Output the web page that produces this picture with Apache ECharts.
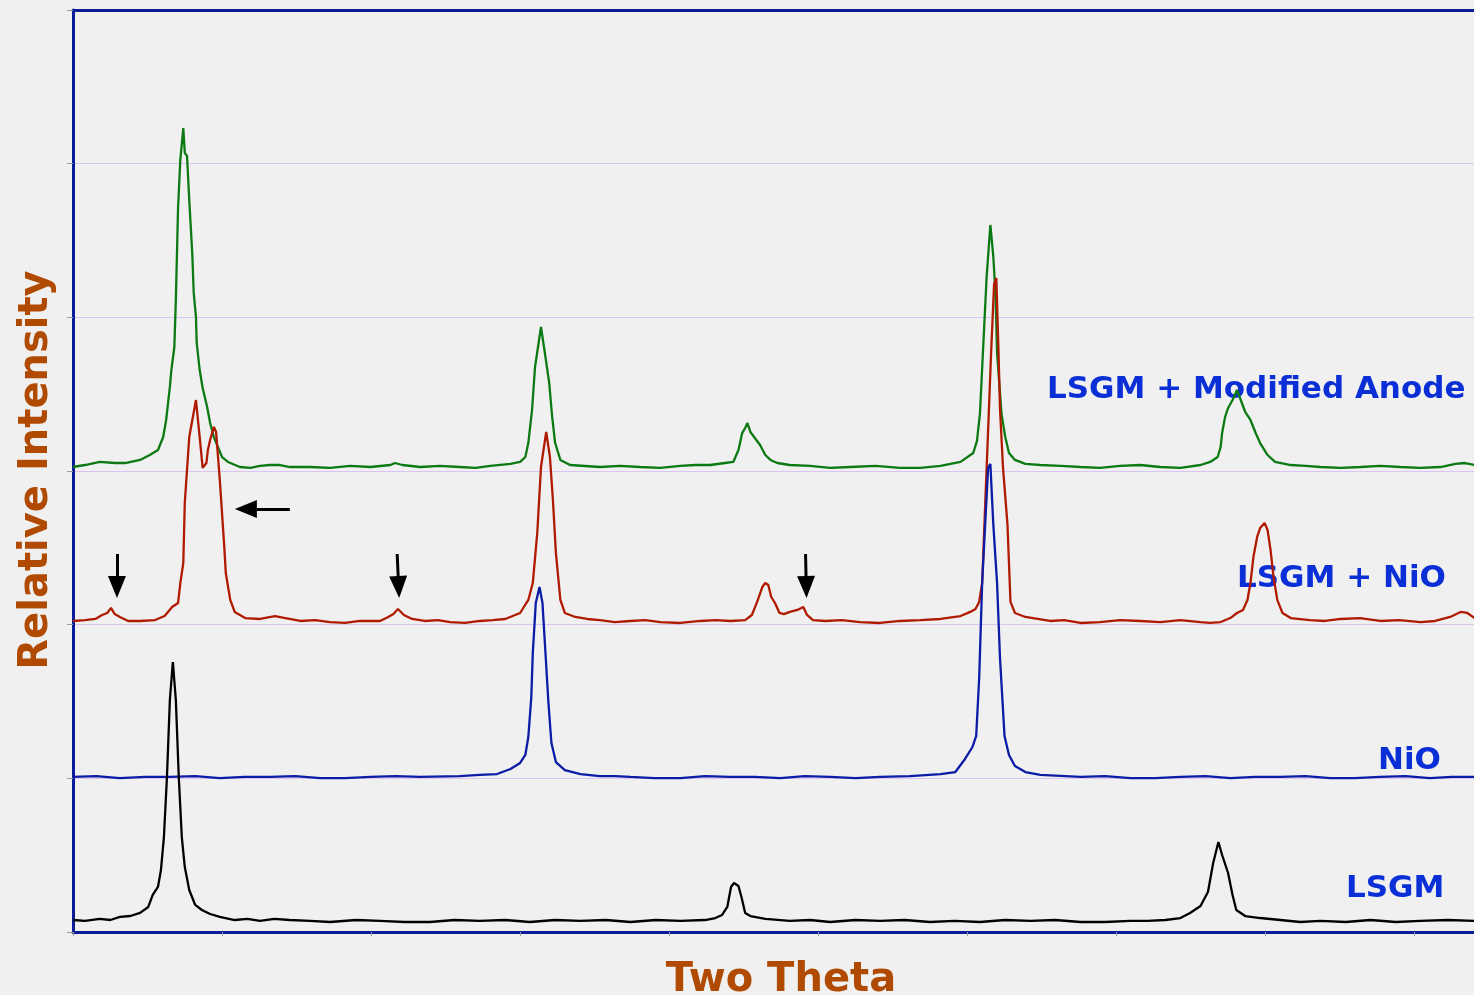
<!DOCTYPE html>
<html>
<head>
    <meta charset="utf-8">
    <title>XRD</title>
    <script src="https://cdn.jsdelivr.net/npm/echarts@6/dist/echarts.min.js"></script>
    <style>
        html, body { margin: 0; padding: 0; background: #f0f0f0; }
    </style>
</head>
<body>
<div id="chartmain" style="width:1474px; height:995px;"></div>
<script>
    // [two theta, intensity], patterns already stacked
    var lsgm = [
        [30.00,78],[30.16,72],[30.36,85],[30.50,78],[30.63,98],[30.77,104],[30.90,124],[31.01,163],
        [31.07,241],[31.14,293],[31.18,403],[31.22,618],[31.26,1002],[31.30,1510],[31.34,1757],
        [31.38,1510],[31.42,1002],[31.46,618],[31.50,423],[31.56,273],[31.64,176],[31.73,143],
        [31.84,117],[31.97,98],[32.17,78],[32.34,85],[32.51,72],[32.70,85],[32.91,78],[33.18,72],
        [33.45,65],[33.80,78],[34.12,72],[34.45,65],[34.79,65],[35.12,78],[35.46,72],[35.80,78],
        [36.13,65],[36.47,78],[36.81,72],[37.15,78],[37.48,65],[37.82,78],[38.15,72],[38.48,78],
        [38.62,91],[38.71,111],[38.78,163],[38.83,293],[38.87,319],[38.93,299],[38.97,228],[39.02,124],
        [39.09,104],[39.29,85],[39.62,72],[39.89,78],[40.16,65],[40.50,78],[40.83,72],[41.16,78],
        [41.50,65],[41.83,72],[42.17,65],[42.51,78],[42.85,72],[43.18,78],[43.52,65],[43.85,65],
        [44.19,72],[44.42,72],[44.66,78],[44.86,91],[44.99,124],[45.13,169],[45.23,260],[45.30,449],
        [45.37,586],[45.42,501],[45.50,384],[45.56,241],[45.61,143],[45.73,104],[45.93,91],[46.20,78],
        [46.47,65],[46.74,72],[47.08,65],[47.41,78],[47.75,65],[48.08,72],[48.45,78],[48.81,72]
    ];
    var nio = [
        [30.00,1009],[30.31,1015],[30.63,1002],[30.97,1009],[31.30,1009],[31.64,1015],[31.97,1002],
        [32.30,1009],[32.64,1009],[32.98,1015],[33.32,1002],[33.65,1002],[33.99,1009],[34.33,1015],
        [34.66,1009],[35.19,1015],[35.46,1022],[35.69,1028],[35.87,1061],[36.00,1100],[36.07,1152],
        [36.11,1269],[36.15,1529],[36.17,1816],[36.21,2141],[36.26,2245],[36.30,2141],[36.34,1816],
        [36.38,1490],[36.42,1230],[36.48,1106],[36.60,1054],[36.81,1028],[37.07,1015],[37.27,1015],
        [37.48,1009],[37.80,1002],[38.15,1002],[38.48,1015],[38.82,1009],[39.15,1009],[39.49,1002],
        [39.82,1015],[40.16,1009],[40.50,1002],[40.83,1009],[41.23,1015],[41.64,1028],[41.84,1041],
        [41.97,1126],[42.07,1204],[42.12,1276],[42.16,1653],[42.20,2271],[42.24,2649],[42.28,3020],
        [42.31,3046],[42.35,2649],[42.40,2271],[42.44,1777],[42.50,1276],[42.56,1152],[42.64,1080],
        [42.78,1041],[42.98,1022],[43.52,1009],[43.85,1015],[44.19,1002],[44.52,1002],[44.86,1009],
        [45.20,1015],[45.53,1002],[45.86,1009],[46.20,1009],[46.54,1015],[46.87,1002],[47.20,1002],
        [47.54,1009],[47.88,1015],[48.21,1002],[48.50,1009],[48.81,1009]
    ];
    var lsgmNio = [
        [30.00,2024],[30.16,2030],[30.30,2037],[30.39,2063],[30.46,2076],[30.51,2109],[30.56,2069],
        [30.63,2050],[30.74,2024],[30.90,2024],[31.10,2030],[31.23,2056],[31.33,2115],[31.41,2141],
        [31.44,2271],[31.48,2401],[31.50,2792],[31.56,3221],[31.65,3462],[31.70,3221],[31.74,3020],
        [31.79,3052],[31.81,3137],[31.84,3202],[31.89,3287],[31.92,3254],[31.97,2942],[32.03,2506],
        [32.05,2336],[32.11,2161],[32.17,2083],[32.31,2043],[32.51,2037],[32.71,2056],[32.85,2043],
        [33.05,2024],[33.25,2030],[33.45,2017],[33.65,2011],[33.85,2024],[34.12,2024],[34.23,2050],
        [34.30,2069],[34.36,2102],[34.44,2063],[34.55,2037],[34.72,2024],[34.90,2030],[35.06,2017],
        [35.26,2011],[35.46,2024],[35.63,2030],[35.80,2037],[36.00,2076],[36.11,2161],[36.17,2271],
        [36.23,2597],[36.28,3026],[36.35,3254],[36.40,3091],[36.44,2811],[36.48,2467],[36.54,2161],
        [36.60,2076],[36.74,2050],[36.90,2037],[37.07,2030],[37.27,2017],[37.48,2024],[37.68,2030],
        [37.88,2017],[38.15,2011],[38.42,2024],[38.62,2030],[38.82,2024],[39.02,2030],[39.11,2063],
        [39.18,2148],[39.25,2245],[39.29,2271],[39.33,2258],[39.37,2180],[39.42,2141],[39.48,2076],
        [39.54,2069],[39.62,2083],[39.72,2096],[39.80,2115],[39.85,2063],[39.93,2030],[40.09,2024],
        [40.32,2030],[40.56,2017],[40.83,2011],[41.10,2024],[41.37,2030],[41.64,2037],[41.91,2056],
        [42.04,2083],[42.11,2102],[42.16,2148],[42.20,2271],[42.24,2772],[42.28,3267],[42.32,3768],
        [42.36,4217],[42.39,4256],[42.42,3768],[42.44,3397],[42.48,3020],[42.54,2649],[42.58,2148],
        [42.64,2076],[42.78,2050],[43.11,2024],[43.30,2030],[43.52,2011],[43.78,2017],[44.05,2030],
        [44.32,2024],[44.59,2017],[44.86,2030],[45.13,2017],[45.26,2011],[45.40,2017],[45.53,2043],
        [45.62,2076],[45.70,2096],[45.76,2161],[45.80,2271],[45.84,2440],[45.89,2571],[45.93,2629],
        [45.99,2662],[46.03,2616],[46.07,2486],[46.11,2310],[46.16,2161],[46.23,2076],[46.34,2043],
        [46.60,2030],[46.80,2024],[47.01,2037],[47.27,2043],[47.54,2024],[47.80,2030],[48.08,2017],
        [48.28,2024],[48.48,2050],[48.62,2083],[48.71,2076],[48.81,2043]
    ];
    var lsgmAnode = [
        [30.00,3026],[30.16,3039],[30.36,3059],[30.56,3052],[30.70,3052],[30.90,3072],[31.03,3104],
        [31.14,3137],[31.21,3221],[31.25,3332],[31.30,3547],[31.32,3657],[31.36,3807],[31.38,4113],
        [31.41,4718],[31.44,5024],[31.48,5232],[31.50,5070],[31.53,5050],[31.56,4764],[31.60,4419],
        [31.62,4159],[31.65,4002],[31.66,3833],[31.70,3657],[31.74,3540],[31.80,3417],[31.84,3312],
        [31.89,3221],[31.95,3150],[32.00,3091],[32.08,3059],[32.24,3026],[32.38,3020],[32.51,3033],
        [32.64,3039],[32.78,3039],[32.91,3026],[33.18,3026],[33.45,3020],[33.72,3033],[33.99,3026],
        [34.26,3039],[34.32,3052],[34.42,3039],[34.66,3026],[34.92,3033],[35.19,3026],[35.40,3020],
        [35.60,3033],[35.87,3046],[36.00,3059],[36.07,3091],[36.11,3182],[36.16,3397],[36.20,3677],
        [36.28,3937],[36.34,3742],[36.39,3573],[36.43,3352],[36.47,3182],[36.54,3072],[36.67,3039],
        [37.07,3026],[37.34,3033],[37.61,3026],[37.88,3020],[38.15,3033],[38.35,3039],[38.55,3039],
        [38.75,3052],[38.86,3059],[38.93,3137],[38.98,3247],[39.02,3280],[39.05,3312],[39.09,3254],
        [39.15,3215],[39.22,3169],[39.29,3104],[39.36,3072],[39.45,3052],[39.62,3039],[39.89,3033],
        [40.16,3020],[40.43,3026],[40.77,3033],[41.10,3020],[41.37,3020],[41.64,3033],[41.91,3059],
        [42.08,3117],[42.13,3195],[42.17,3371],[42.21,3768],[42.26,4263],[42.31,4601],[42.35,4393],
        [42.38,4139],[42.40,3768],[42.46,3371],[42.51,3221],[42.56,3117],[42.64,3072],[42.78,3046],
        [42.98,3039],[43.25,3033],[43.52,3026],[43.78,3020],[44.05,3033],[44.32,3039],[44.59,3026],
        [44.86,3020],[45.13,3039],[45.26,3059],[45.36,3091],[45.40,3156],[45.42,3247],[45.46,3352],
        [45.50,3410],[45.56,3462],[45.62,3527],[45.68,3449],[45.73,3384],[45.80,3332],[45.87,3247],
        [45.93,3182],[46.03,3104],[46.13,3059],[46.34,3039],[46.54,3033],[46.74,3026],[47.01,3020],
        [47.28,3026],[47.54,3033],[47.81,3026],[48.08,3020],[48.35,3026],[48.55,3046],[48.68,3052],
        [48.81,3039]
    ];
    // arrows marking the extra peaks: [from, to]
    var arrows = [
        [[30.59,2460],[30.59,2245]],
        [[34.35,2460],[34.37,2245]],
        [[39.83,2460],[39.84,2245]],
        [[32.91,2753],[32.32,2753]]
    ];

    var myChart = echarts.init(document.getElementById('chartmain'));
    var navy = '#0a1c98';
    var labelFont = 'bold 31px "DejaVu Sans"';
    var titleFont = 'bold 40px "DejaVu Sans"';

    function trace(name, data, color) {
        return {
            name: name,
            type: 'line',
            data: data,
            showSymbol: false,
            animation: false,
            lineStyle: {color: color, width: 2.3},
            itemStyle: {color: color}
        };
    }

    var option = {
        backgroundColor: '#f0f0f0',
        animation: false,
        grid: {left: 73, right: 0, top: 10, bottom: 63},
        xAxis: [
            {
                type: 'value', min: 30, max: 48.8, interval: 2,
                axisLine: {show: true, onZero: false, lineStyle: {color: navy, width: 3}},
                axisTick: {show: true, length: 4, lineStyle: {color: '#999'}},
                axisLabel: {show: false},
                splitLine: {show: false}
            },
            {
                type: 'value', position: 'top', min: 30, max: 48.8, interval: 2,
                axisLine: {show: true, onZero: false, lineStyle: {color: navy, width: 3}},
                axisTick: {show: false},
                axisLabel: {show: false},
                splitLine: {show: false}
            }
        ],
        yAxis: {
            type: 'value', min: 0, max: 6000, interval: 1000,
            axisLine: {show: true, onZero: false, lineStyle: {color: navy, width: 3}},
            axisTick: {show: true, length: 6, lineStyle: {color: '#999'}},
            axisLabel: {show: false},
            splitLine: {show: true, lineStyle: {color: '#d9c4f2', width: 1}}
        },
        series: [
            trace('LSGM + Modified Anode', lsgmAnode, '#0b7a12'),
            trace('LSGM + NiO', lsgmNio, '#b01a00'),
            trace('NiO', nio, '#0b1ca6'),
            trace('LSGM', lsgm, '#000000'),
            {
                name: 'arrows',
                type: 'line',
                data: [],
                silent: true,
                markLine: {
                    silent: true,
                    animation: false,
                    symbol: ['none', 'triangle'],
                    symbolSize: [18, 22],
                    label: {show: false},
                    lineStyle: {color: '#000', width: 3, type: 'solid'},
                    itemStyle: {color: '#000'},
                    emphasis: {disabled: true},
                    data: arrows.map(function (a) {
                        return [{coord: a[0]}, {coord: a[1]}];
                    })
                }
            }
        ],
        graphic: [
            {type: 'text', x: 1047, y: 390, style: {text: 'LSGM + Modified Anode', font: labelFont, fill: '#0a2fd6', textVerticalAlign: 'middle'}},
            {type: 'text', x: 1237, y: 579, style: {text: 'LSGM + NiO', font: labelFont, fill: '#0a2fd6', textVerticalAlign: 'middle'}},
            {type: 'text', x: 1378, y: 761, style: {text: 'NiO', font: labelFont, fill: '#0a2fd6', textVerticalAlign: 'middle'}},
            {type: 'text', x: 1346, y: 889, style: {text: 'LSGM', font: labelFont, fill: '#0a2fd6', textVerticalAlign: 'middle'}},
            {type: 'text', x: 781, y: 981, style: {text: 'Two Theta', font: titleFont, fill: '#b04a00', textAlign: 'center', textVerticalAlign: 'middle'}},
            {type: 'text', x: 37, y: 470, rotation: Math.PI / 2, style: {text: 'Relative Intensity', font: titleFont, fill: '#b04a00', textAlign: 'center', textVerticalAlign: 'middle'}}
        ]
    };
    myChart.setOption(option);
</script>
</body>
</html>
